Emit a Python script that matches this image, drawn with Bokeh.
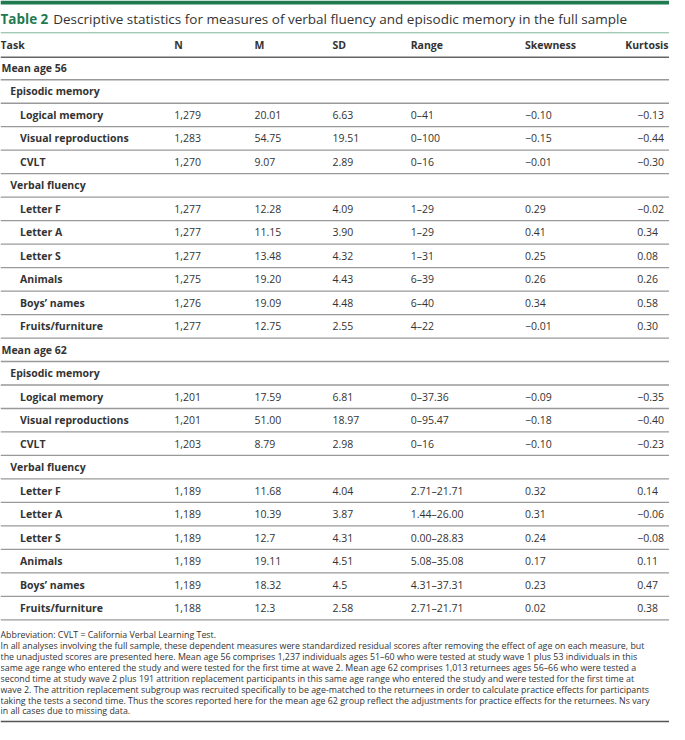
from bokeh.plotting import figure
from bokeh.models import Range1d
from bokeh.core.properties import value
from bokeh.embed import file_html
from bokeh.resources import INLINE

# ---------------- data ----------------
title_bold = "Table 2"
title_rest = "Descriptive statistics for measures of verbal fluency and episodic memory in the full sample"
columns = ["Task", "N", "M", "SD", "Range", "Skewness", "Kurtosis"]
groups = ["Mean age 56", "Mean age 62"]
subgroups = ["Episodic memory", "Verbal fluency"]
episodic_measures = ["Logical memory", "Visual reproductions", "CVLT"]
verbal_measures = ["Letter F", "Letter A", "Letter S", "Animals", "Boys\u2019 names", "Fruits/furniture"]

n_56 = ["1,279", "1,283", "1,270", "1,277", "1,277", "1,277", "1,275", "1,276", "1,277"]
m_56 = ["20.01", "54.75", "9.07", "12.28", "11.15", "13.48", "19.20", "19.09", "12.75"]
sd_56 = ["6.63", "19.51", "2.89", "4.09", "3.90", "4.32", "4.43", "4.48", "2.55"]
range_56 = ["0\u201341", "0\u2013100", "0\u201316", "1\u201329", "1\u201329", "1\u201331", "6\u201339", "6\u201340", "4\u201322"]
skew_56 = ["\u22120.10", "\u22120.15", "\u22120.01", "0.29", "0.41", "0.25", "0.26", "0.34", "\u22120.01"]
kurt_56 = ["\u22120.13", "\u22120.44", "\u22120.30", "\u22120.02", "0.34", "0.08", "0.26", "0.58", "0.30"]

n_62 = ["1,201", "1,201", "1,203", "1,189", "1,189", "1,189", "1,189", "1,189", "1,188"]
m_62 = ["17.59", "51.00", "8.79", "11.68", "10.39", "12.7", "19.11", "18.32", "12.3"]
sd_62 = ["6.81", "18.97", "2.98", "4.04", "3.87", "4.31", "4.51", "4.5", "2.58"]
range_62 = ["0\u201337.36", "0\u201395.47", "0\u201316", "2.71\u201321.71", "1.44\u201326.00", "0.00\u201328.83",
            "5.08\u201335.08", "4.31\u201337.31", "2.71\u201321.71"]
skew_62 = ["\u22120.09", "\u22120.18", "\u22120.10", "0.32", "0.31", "0.24", "0.17", "0.23", "0.02"]
kurt_62 = ["\u22120.35", "\u22120.40", "\u22120.23", "0.14", "\u22120.06", "\u22120.08", "0.11", "0.47", "0.38"]

footnotes = [
    "Abbreviation: CVLT = California Verbal Learning Test.",
    "In all analyses involving the full sample, these dependent measures were standardized residual scores after removing the effect of age on each measure, but",
    "the unadjusted scores are presented here. Mean age 56 comprises 1,237 individuals ages 51\u201360 who were tested at study wave 1 plus 53 individuals in this",
    "same age range who entered the study and were tested for the first time at wave 2. Mean age 62 comprises 1,013 returnees ages 56\u201366 who were tested a",
    "second time at study wave 2 plus 191 attrition replacement participants in this same age range who entered the study and were tested for the first time at",
    "wave 2. The attrition replacement subgroup was recruited specifically to be age-matched to the returnees in order to calculate practice effects for participants",
    "taking the tests a second time. Thus the scores reported here for the mean age 62 group reflect the adjustments for practice effects for the returnees. Ns vary",
    "in all cases due to missing data.",
]

# ---------------- layout ----------------
W, H = 685, 740
col_x = [0, 178, 260, 340, 420, 537, 652]
row_h = 24
first_row_y = 69
font = value("Open Sans")
green = "#1f7a50"
txt = "#333333"

p = figure(width=669, height=724, x_range=Range1d(0, W), y_range=Range1d(H, 0),
           output_backend="svg", toolbar_location=None, min_border=0)
p.axis.visible = False
p.grid.visible = False
p.outline_line_color = None
p.background_fill_color = "white"

# top green bar
p.quad(left=[0], right=[W], top=[0], bottom=[4], fill_color=green, line_color=None)

# title
p.text(x=[0], y=[19], text=[title_bold], text_font=font, text_font_style="bold",
       text_font_size="13.5px", text_color=green, text_baseline="middle")
p.text(x=[54], y=[19], text=[title_rest], text_font=font,
       text_font_size="13.5px", text_color=txt, text_baseline="middle")
p.segment(x0=[0], x1=[W], y0=[33], y1=[33], line_color="#7db59b", line_width=1)

# header (last header right-aligned to the table edge)
hx = col_x[:-1] + [W - 1]
halign = ["left"] * (len(columns) - 1) + ["right"]
p.text(x=hx, y=[45] * len(columns), text=columns, text_font=font, text_font_style="bold",
       text_font_size="10.5px", text_color=txt, text_baseline="middle", text_align=halign)
p.segment(x0=[0], x1=[W], y0=[58], y1=[58], line_color="#666666", line_width=1.5)

# body rows
labels, label_x, rows_y = [], [], []
cell_text, cell_x, cell_y = [], [], []
sep_y = []
group_vals = [
    (n_56, m_56, sd_56, range_56, skew_56, kurt_56),
    (n_62, m_62, sd_62, range_62, skew_62, kurt_62),
]
r = 0
for g, gname in enumerate(groups):
    y = first_row_y + r * row_h
    labels.append(gname); label_x.append(1); rows_y.append(y)
    sep_y.append(y + row_h / 2)
    r += 1
    k = 0
    for s, sname in enumerate(subgroups):
        y = first_row_y + r * row_h
        labels.append(sname); label_x.append(10); rows_y.append(y)
        sep_y.append(y + row_h / 2)
        r += 1
        measures = episodic_measures if s == 0 else verbal_measures
        for mname in measures:
            y = first_row_y + r * row_h
            labels.append(mname); label_x.append(20); rows_y.append(y)
            sep_y.append(y + row_h / 2)
            for c, arr in enumerate(group_vals[g]):
                cell_text.append(arr[k]); cell_x.append(col_x[c + 1]); cell_y.append(y)
            r += 1
            k += 1

p.text(x=label_x, y=rows_y, text=labels, text_font=font, text_font_style="bold",
       text_font_size="10.5px", text_color=txt, text_baseline="middle")
p.text(x=cell_x, y=cell_y, text=cell_text, text_font=font,
       text_font_size="10.5px", text_color=txt, text_baseline="middle")
p.segment(x0=[0] * len(sep_y), x1=[W] * len(sep_y), y0=sep_y, y1=sep_y,
          line_color="#999999", line_width=1.3)

# footnotes
foot_y0 = 649
foot_dy = 11.1
p.text(x=[0] * len(footnotes), y=[foot_y0 + i * foot_dy for i in range(len(footnotes))],
       text=footnotes, text_font=font, text_font_size="8.85px", text_color=txt,
       text_baseline="middle")
p.segment(x0=[0], x1=[W], y0=[737], y1=[737], line_color="#555555", line_width=1.5)

open("out.html", "w").write(file_html(p, INLINE))
